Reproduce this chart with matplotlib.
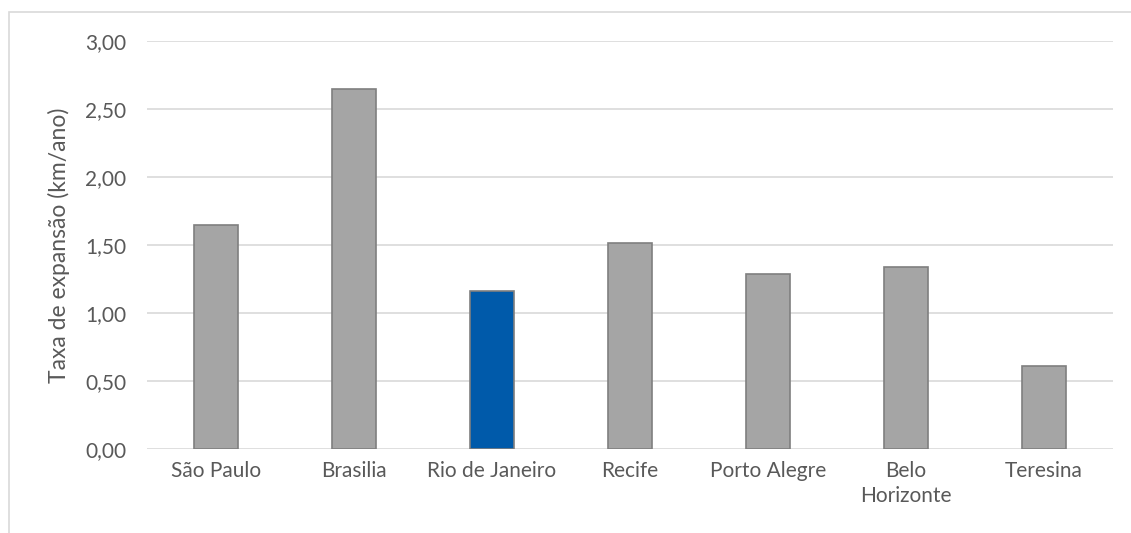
import matplotlib.pyplot as plt
from matplotlib.patches import Rectangle
from matplotlib.ticker import FuncFormatter

# data
cities = ["São Paulo", "Brasilia", "Rio de Janeiro", "Recife",
          "Porto Alegre", "Belo\nHorizonte", "Teresina"]
rates = [1.65, 2.65, 1.165, 1.515, 1.29, 1.34, 0.61]
highlight = "Rio de Janeiro"

plt.rcParams['font.family'] = ['Lato', 'DejaVu Sans']

fig = plt.figure(figsize=(11.31, 5.33), dpi=100)
ax = fig.add_axes([0.130, 0.1576, 0.854, 0.7655])

colors = ["#005aaa" if c == highlight else "#a5a5a5" for c in cities]
ax.bar(range(len(cities)), rates, width=0.32, color=colors,
       edgecolor="#7f7f7f", linewidth=1.2, zorder=3)

ax.set_xlim(-0.5, len(cities) - 0.5)
ax.set_ylim(0, 3)
ax.set_yticks([0, 0.5, 1.0, 1.5, 2.0, 2.5, 3.0])
ax.yaxis.set_major_formatter(FuncFormatter(lambda v, p: f"{v:.2f}".replace(".", ",")))
ax.set_xticks(range(len(cities)))
ax.set_xticklabels(cities, linespacing=1.3)

ax.grid(axis="y", color="#d9d9d9", linewidth=1.2, zorder=0)
for s in ax.spines.values():
    s.set_visible(False)
ax.tick_params(length=0, colors="#595959", labelsize=15)
ax.tick_params(axis="y", pad=15)
ax.tick_params(axis="x", pad=9)

ax.set_ylabel("Taxa de expansão (km/ano)", fontsize=16.5, color="#595959", labelpad=11)

# outer chart border (cut off on right and bottom)
fig.patches.append(Rectangle((0.008, -0.2), 1.5, 1.1775, transform=fig.transFigure,
                             fill=False, edgecolor="#d9d9d9", linewidth=1.2))

fig.savefig("out.png", dpi=100)
